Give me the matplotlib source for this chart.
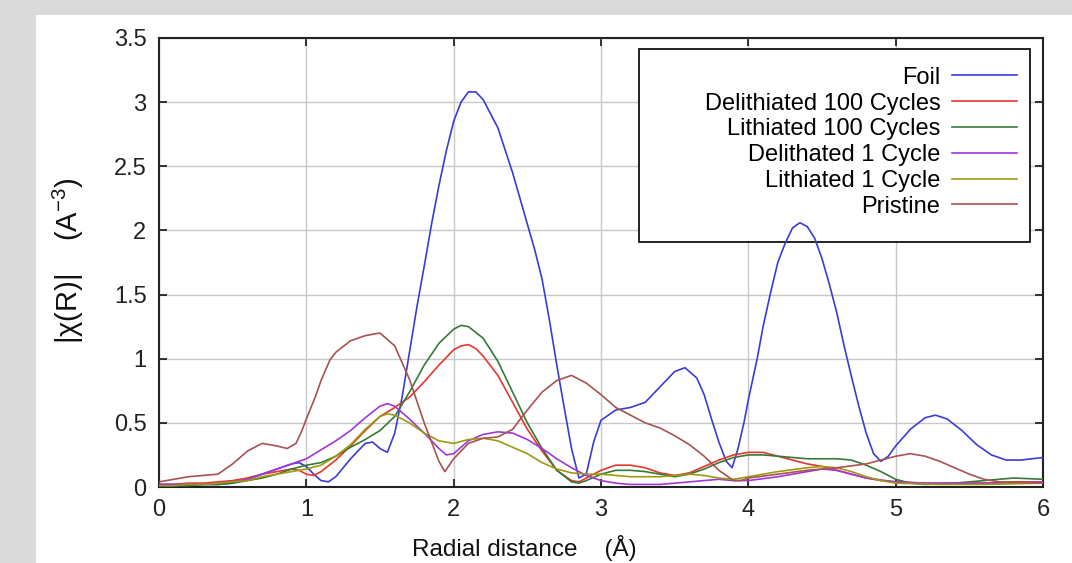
import matplotlib
matplotlib.use("Agg")
import matplotlib.pyplot as plt
from matplotlib.patches import Rectangle

plt.rcParams['font.family'] = ['Liberation Sans', 'DejaVu Sans']
plt.rcParams['mathtext.fontset'] = 'custom'
plt.rcParams['mathtext.rm'] = 'Liberation Sans'

# Foil
foil_r = [0.0, 0.1, 0.2, 0.3, 0.4, 0.5, 0.6, 0.7, 0.8, 0.9, 0.95, 1.0, 1.05, 1.1, 1.15, 1.2, 1.3, 1.4, 1.45,
          1.5, 1.55, 1.6, 1.65, 1.7, 1.75, 1.8, 1.85, 1.9, 1.95, 2.0, 2.05, 2.1, 2.15, 2.2, 2.3, 2.4, 2.5,
          2.55, 2.6, 2.65, 2.7, 2.75, 2.8, 2.85, 2.9, 2.95, 3.0, 3.1, 3.2, 3.3, 3.4, 3.5, 3.57, 3.65, 3.7,
          3.75, 3.8, 3.85, 3.89, 3.93, 3.97, 4.0, 4.06, 4.1, 4.15, 4.2, 4.25, 4.3, 4.35, 4.4, 4.45, 4.5,
          4.55, 4.6, 4.65, 4.7, 4.75, 4.8, 4.85, 4.9, 4.95, 5.0, 5.1, 5.2, 5.27, 5.35, 5.45, 5.55, 5.65,
          5.75, 5.85, 6.0]
foil = [0.02, 0.02, 0.02, 0.02, 0.02, 0.03, 0.06, 0.1, 0.14, 0.18, 0.19, 0.16, 0.1, 0.05, 0.04, 0.08, 0.22,
        0.34, 0.35, 0.3, 0.27, 0.42, 0.7, 1.05, 1.4, 1.72, 2.05, 2.35, 2.62, 2.85, 3.0, 3.08, 3.08, 3.02,
        2.8, 2.45, 2.05, 1.85, 1.62, 1.3, 0.95, 0.62, 0.3, 0.07, 0.1, 0.35, 0.52, 0.6, 0.62, 0.66, 0.78,
        0.9, 0.93, 0.85, 0.72, 0.53, 0.35, 0.2, 0.15, 0.3, 0.5, 0.68, 1.0, 1.25, 1.51, 1.75, 1.9, 2.02,
        2.06, 2.03, 1.94, 1.78, 1.58, 1.36, 1.1, 0.86, 0.63, 0.42, 0.26, 0.2, 0.24, 0.32, 0.45, 0.54,
        0.56, 0.53, 0.44, 0.33, 0.25, 0.21, 0.21, 0.23]

# Delithiated 100 Cycles
del100_r = [0.0, 0.1, 0.2, 0.3, 0.4, 0.5, 0.6, 0.7, 0.8, 0.9, 0.95, 1.0, 1.05, 1.1, 1.2, 1.3, 1.4, 1.5, 1.6,
            1.7, 1.8, 1.9, 2.0, 2.05, 2.1, 2.15, 2.2, 2.3, 2.4, 2.5, 2.6, 2.7, 2.8, 2.85, 2.9, 3.0, 3.1,
            3.2, 3.3, 3.4, 3.5, 3.6, 3.7, 3.8, 3.9, 4.0, 4.1, 4.2, 4.3, 4.4, 4.5, 4.6, 4.7, 4.8, 4.9, 5.0,
            5.2, 5.4, 5.6, 5.8, 6.0]
del100 = [0.02, 0.02, 0.03, 0.03, 0.04, 0.05, 0.07, 0.1, 0.12, 0.14, 0.13, 0.1, 0.09, 0.12, 0.21, 0.32,
          0.44, 0.55, 0.62, 0.7, 0.82, 0.95, 1.07, 1.1, 1.11, 1.08, 1.02, 0.87, 0.66, 0.45, 0.28, 0.13,
          0.05, 0.04, 0.07, 0.13, 0.17, 0.17, 0.15, 0.11, 0.09, 0.11, 0.16, 0.21, 0.25, 0.27, 0.27, 0.24,
          0.21, 0.18, 0.16, 0.13, 0.1, 0.07, 0.05, 0.04, 0.03, 0.03, 0.03, 0.04, 0.04]

# Lithiated 100 Cycles
lit100_r = [0.0, 0.1, 0.2, 0.3, 0.4, 0.5, 0.6, 0.7, 0.8, 0.9, 1.0, 1.1, 1.2, 1.3, 1.4, 1.5, 1.6, 1.7, 1.8,
            1.9, 2.0, 2.05, 2.1, 2.2, 2.3, 2.4, 2.5, 2.6, 2.7, 2.8, 2.85, 2.9, 3.0, 3.1, 3.2, 3.3, 3.4,
            3.5, 3.6, 3.7, 3.8, 3.9, 4.0, 4.1, 4.2, 4.3, 4.4, 4.5, 4.6, 4.7, 4.8, 4.9, 5.0, 5.1, 5.2, 5.4,
            5.6, 5.8, 6.0]
lit100 = [0.01, 0.01, 0.01, 0.02, 0.02, 0.03, 0.05, 0.07, 0.1, 0.14, 0.17, 0.19, 0.24, 0.31, 0.37, 0.44,
          0.55, 0.74, 0.95, 1.12, 1.23, 1.26, 1.25, 1.16, 0.98, 0.74, 0.5, 0.3, 0.13, 0.04, 0.03, 0.05,
          0.1, 0.13, 0.13, 0.12, 0.1, 0.08, 0.1, 0.14, 0.19, 0.23, 0.25, 0.25, 0.24, 0.23, 0.22, 0.22,
          0.22, 0.21, 0.17, 0.12, 0.06, 0.03, 0.02, 0.03, 0.05, 0.07, 0.06]

# Delithated 1 Cycle
del1_r = [0.0, 0.1, 0.2, 0.3, 0.4, 0.5, 0.6, 0.7, 0.8, 0.9, 1.0, 1.1, 1.2, 1.3, 1.4, 1.5, 1.55, 1.6, 1.7,
          1.8, 1.9, 1.95, 2.0, 2.1, 2.2, 2.3, 2.4, 2.5, 2.6, 2.7, 2.8, 2.9, 3.0, 3.1, 3.2, 3.4, 3.6, 3.8,
          3.9, 4.0, 4.2, 4.4, 4.5, 4.6, 4.7, 4.8, 5.0, 5.2, 5.5, 5.8, 6.0]
del1 = [0.02, 0.02, 0.02, 0.02, 0.03, 0.04, 0.06, 0.1, 0.14, 0.18, 0.22, 0.29, 0.36, 0.44, 0.54, 0.63,
        0.65, 0.63, 0.53, 0.42, 0.3, 0.25, 0.26, 0.36, 0.41, 0.43, 0.42, 0.37, 0.3, 0.22, 0.15, 0.09,
        0.05, 0.03, 0.02, 0.02, 0.04, 0.06, 0.05, 0.05, 0.08, 0.12, 0.14, 0.13, 0.1, 0.07, 0.04, 0.03,
        0.03, 0.03, 0.04]

# Lithiated 1 Cycle
lit1_r = [0.0, 0.1, 0.2, 0.3, 0.4, 0.5, 0.6, 0.7, 0.8, 0.9, 1.0, 1.1, 1.2, 1.3, 1.4, 1.5, 1.55, 1.6, 1.7,
          1.8, 1.9, 2.0, 2.1, 2.2, 2.3, 2.4, 2.5, 2.6, 2.7, 2.8, 2.9, 3.0, 3.2, 3.4, 3.6, 3.7, 3.8, 3.9,
          4.0, 4.2, 4.4, 4.5, 4.6, 4.7, 4.8, 4.9, 5.0, 5.3, 5.6, 6.0]
lit1 = [0.01, 0.01, 0.02, 0.02, 0.03, 0.04, 0.05, 0.08, 0.1, 0.12, 0.14, 0.17, 0.24, 0.33, 0.45, 0.55,
        0.57, 0.56, 0.5, 0.42, 0.36, 0.34, 0.37, 0.38, 0.36, 0.31, 0.26, 0.19, 0.14, 0.11, 0.1, 0.1,
        0.08, 0.08, 0.1, 0.09, 0.07, 0.06, 0.08, 0.12, 0.15, 0.16, 0.15, 0.12, 0.08, 0.05, 0.03, 0.02,
        0.02, 0.03]

# Pristine
pris_r = [0.0, 0.1, 0.2, 0.3, 0.4, 0.5, 0.6, 0.7, 0.8, 0.87, 0.93, 0.97, 1.0, 1.06, 1.1, 1.16, 1.2, 1.3,
          1.4, 1.5, 1.6, 1.7, 1.8, 1.9, 1.94, 2.0, 2.1, 2.2, 2.3, 2.4, 2.5, 2.6, 2.7, 2.8, 2.9, 3.0,
          3.1, 3.2, 3.3, 3.4, 3.5, 3.6, 3.7, 3.8, 3.9, 3.95, 4.0, 4.2, 4.4, 4.6, 4.8, 4.9, 5.0, 5.1,
          5.2, 5.3, 5.4, 5.5, 5.6, 5.7, 6.0]
pris = [0.04, 0.06, 0.08, 0.09, 0.1, 0.18, 0.28, 0.34, 0.32, 0.3, 0.34, 0.44, 0.53, 0.7, 0.83, 0.99, 1.05,
        1.14, 1.18, 1.2, 1.1, 0.84, 0.5, 0.2, 0.12, 0.22, 0.34, 0.38, 0.39, 0.45, 0.6, 0.74, 0.83,
        0.87, 0.81, 0.72, 0.62, 0.56, 0.5, 0.46, 0.4, 0.33, 0.24, 0.13, 0.05, 0.05, 0.07, 0.1, 0.13,
        0.15, 0.18, 0.21, 0.24, 0.26, 0.24, 0.2, 0.15, 0.1, 0.06, 0.04, 0.03]

labels = ['Foil', 'Delithiated 100 Cycles', 'Lithiated 100 Cycles', 'Delithated 1 Cycle',
          'Lithiated 1 Cycle', 'Pristine']
colors = ['#3b3bdc', '#e8352e', '#357a35', '#a236dc', '#9c9a10', '#a85252']
xticks = [0, 1, 2, 3, 4, 5, 6]
yticks = [0, 0.5, 1, 1.5, 2, 2.5, 3, 3.5]
ytick_labels = ['0', '0.5', '1', '1.5', '2', '2.5', '3', '3.5']

series = [(foil_r, foil), (del100_r, del100), (lit100_r, lit100), (del1_r, del1), (lit1_r, lit1),
          (pris_r, pris)]

fig = plt.figure(figsize=(10.72, 5.63), dpi=100)
fig.patch.set_facecolor('#dadada')
# white slide panel, behind the axes
panel = Rectangle((36 / 1072, 0), 1 - 36 / 1072, 1 - 15 / 563, transform=fig.transFigure,
                  facecolor='white', edgecolor='none', zorder=-5)
fig.add_artist(panel)

ax = fig.add_axes([159 / 1072, 1 - 487 / 563, (1043 - 159) / 1072, (487 - 38) / 563])
ax.set_facecolor('white')

handles = []
for (r, v), lab, c in zip(series, labels, colors):
    h, = ax.plot(r, v, color=c, lw=1.2, label=lab, zorder=3)
    handles.append(h)

ax.set_xlim(0, 6)
ax.set_ylim(0, 3.5)
ax.set_xticks(xticks)
ax.set_yticks(yticks)
ax.set_yticklabels(ytick_labels)
ax.grid(True, color='#c8c8c8', lw=1.0)
ax.set_axisbelow(True)
for s in ax.spines.values():
    s.set_linewidth(1.5)
    s.set_color('#222222')
ax.tick_params(direction='in', length=6, width=1.3, top=True, right=True, labelsize=17, pad=9,
               colors='#222222')

ax.set_xlabel('Radial distance    (Å)', fontsize=17.5, color='#111111')
ax.xaxis.set_label_coords(0.413, -0.108)
ax.set_ylabel('|χ(R)|    (A$^{-3}$)', fontsize=21, color='#111111')
ax.yaxis.set_label_coords(-0.083, 0.503)

# legend frame box: white, over the grid but under the curves
ax.add_patch(Rectangle((0.543, 0.5457), 0.9853 - 0.543, 0.9755 - 0.5457, transform=ax.transAxes,
                       facecolor='white', edgecolor='#111111', lw=1.3, zorder=2))
leg = ax.legend(handles=handles, loc='upper right', bbox_to_anchor=(0.9706, 0.936), markerfirst=False,
                frameon=False, fontsize=17, handlelength=2.75, handletextpad=0.5, labelspacing=0.16,
                borderpad=0, borderaxespad=0)
leg.set_zorder(5)

fig.savefig('out.png', dpi=100, facecolor=fig.get_facecolor())
